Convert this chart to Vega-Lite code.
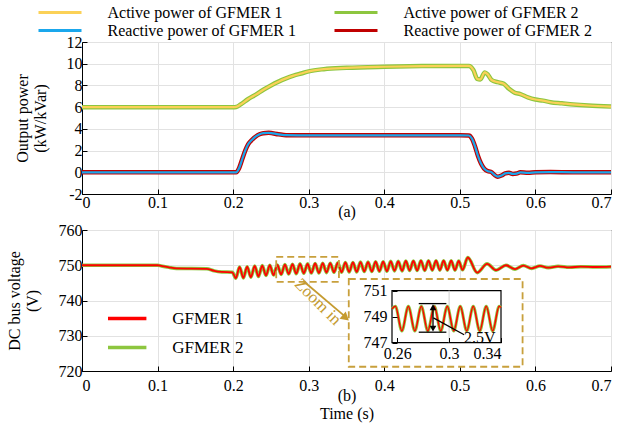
{
"$schema": "https://vega.github.io/schema/vega-lite/v6.json",
"background": "white",
"padding": {"left": 5, "top": 4, "right": 5, "bottom": 2},
"config": {
  "font": "Liberation Serif",
  "view": {"stroke": "black", "strokeWidth": 1},
  "axis": {"labelFont": "Liberation Serif", "labelFontSize": 16, "labelColor": "black", "titleFont": "Liberation Serif", "titleFontSize": 16, "titleFontWeight": "normal", "titleColor": "black", "domainColor": "black", "tickColor": "black", "gridColor": "#e2e2e2", "tickSize": -5, "labelPadding": 9, "titleLineHeight": 18},
  "legend": {"labelFont": "Liberation Serif", "labelFontSize": 16, "labelColor": "black", "labelLimit": 0, "padding": 0}
},
"datasets": {
  "power": [
    {"k":"P","t":0,"v":6},{"k":"P","t":0.2,"v":6},{"k":"P","t":0.204,"v":6.02},{"k":"P","t":0.21,"v":6.25},{"k":"P","t":0.22,"v":6.75},{"k":"P","t":0.23,"v":7.15},{"k":"P","t":0.24,"v":7.6},{"k":"P","t":0.25,"v":8.0},{"k":"P","t":0.26,"v":8.35},{"k":"P","t":0.27,"v":8.65},{"k":"P","t":0.28,"v":8.9},{"k":"P","t":0.29,"v":9.1},{"k":"P","t":0.3,"v":9.3},{"k":"P","t":0.32,"v":9.5},{"k":"P","t":0.35,"v":9.62},{"k":"P","t":0.4,"v":9.72},{"k":"P","t":0.45,"v":9.78},{"k":"P","t":0.5,"v":9.8},{"k":"P","t":0.512,"v":9.8},{"k":"P","t":0.518,"v":9.4},{"k":"P","t":0.523,"v":8.6},{"k":"P","t":0.527,"v":8.55},{"k":"P","t":0.533,"v":9.2},{"k":"P","t":0.537,"v":9.0},{"k":"P","t":0.542,"v":8.5},{"k":"P","t":0.55,"v":8.3},{"k":"P","t":0.558,"v":8.15},{"k":"P","t":0.565,"v":7.7},{"k":"P","t":0.572,"v":7.35},{"k":"P","t":0.58,"v":7.2},{"k":"P","t":0.59,"v":6.9},{"k":"P","t":0.6,"v":6.7},{"k":"P","t":0.61,"v":6.6},{"k":"P","t":0.62,"v":6.45},{"k":"P","t":0.635,"v":6.35},{"k":"P","t":0.65,"v":6.25},{"k":"P","t":0.67,"v":6.15},{"k":"P","t":0.7,"v":6.05},
    {"k":"Q","t":0,"v":0},{"k":"Q","t":0.204,"v":0},{"k":"Q","t":0.208,"v":0.4},{"k":"Q","t":0.212,"v":1.2},{"k":"Q","t":0.216,"v":2.0},{"k":"Q","t":0.22,"v":2.6},{"k":"Q","t":0.225,"v":3.0},{"k":"Q","t":0.23,"v":3.3},{"k":"Q","t":0.235,"v":3.5},{"k":"Q","t":0.24,"v":3.6},{"k":"Q","t":0.247,"v":3.63},{"k":"Q","t":0.26,"v":3.5},{"k":"Q","t":0.27,"v":3.42},{"k":"Q","t":0.3,"v":3.4},{"k":"Q","t":0.4,"v":3.4},{"k":"Q","t":0.5,"v":3.4},{"k":"Q","t":0.512,"v":3.39},{"k":"Q","t":0.516,"v":3.1},{"k":"Q","t":0.52,"v":2.4},{"k":"Q","t":0.524,"v":1.5},{"k":"Q","t":0.528,"v":0.8},{"k":"Q","t":0.532,"v":0.35},{"k":"Q","t":0.537,"v":0.1},{"k":"Q","t":0.541,"v":0.05},{"k":"Q","t":0.546,"v":-0.25},{"k":"Q","t":0.55,"v":-0.4},{"k":"Q","t":0.555,"v":-0.3},{"k":"Q","t":0.56,"v":-0.1},{"k":"Q","t":0.565,"v":-0.05},{"k":"Q","t":0.57,"v":-0.15},{"k":"Q","t":0.575,"v":-0.12},{"k":"Q","t":0.58,"v":0.0},{"k":"Q","t":0.59,"v":-0.05},{"k":"Q","t":0.6,"v":0.0},{"k":"Q","t":0.62,"v":0.02},{"k":"Q","t":0.65,"v":0.0},{"k":"Q","t":0.7,"v":0.0}
  ],
  "dc": [
    {"t":0,"v":750},{"t":0.1,"v":750},{"t":0.105,"v":749.8},{"t":0.115,"v":749.4},{"t":0.125,"v":749.1},{"t":0.165,"v":749.0},{"t":0.175,"v":748.4},{"t":0.185,"v":748.1},{"t":0.199,"v":748.0},
    {"t":0.2035,"v":746.3},{"t":0.2085,"v":749.5},{"t":0.2135,"v":746.4},{"t":0.2185,"v":749.6},{"t":0.2235,"v":746.6},{"t":0.2285,"v":749.8},{"t":0.2335,"v":746.8},{"t":0.2385,"v":749.9},{"t":0.2435,"v":747.1},{"t":0.2485,"v":750.0},
    {"t":0.2535,"v":747.2},{"t":0.2585,"v":750.1},{"t":0.2635,"v":747.4},{"t":0.2685,"v":750.2},{"t":0.2735,"v":747.5},{"t":0.2785,"v":750.3},{"t":0.2835,"v":747.6},{"t":0.2885,"v":750.4},{"t":0.2935,"v":747.7},{"t":0.2985,"v":750.4},
    {"t":0.3035,"v":747.8},{"t":0.3085,"v":750.5},{"t":0.3135,"v":747.8},{"t":0.3185,"v":750.6},{"t":0.3235,"v":747.9},{"t":0.3285,"v":750.6},{"t":0.3335,"v":748.0},{"t":0.3385,"v":750.7},{"t":0.3435,"v":748.0},{"t":0.3485,"v":750.8},
    {"t":0.3535,"v":748.1},{"t":0.3585,"v":750.8},{"t":0.3635,"v":748.1},{"t":0.3685,"v":750.9},{"t":0.3735,"v":748.2},{"t":0.3785,"v":750.9},{"t":0.3835,"v":748.2},{"t":0.3885,"v":751.0},{"t":0.3935,"v":748.3},{"t":0.3985,"v":751.0},
    {"t":0.4035,"v":748.3},{"t":0.4085,"v":751.1},{"t":0.4135,"v":748.4},{"t":0.4185,"v":751.1},{"t":0.4235,"v":748.4},{"t":0.4285,"v":751.2},{"t":0.4335,"v":748.5},{"t":0.4385,"v":751.2},{"t":0.4435,"v":748.5},{"t":0.4485,"v":751.3},
    {"t":0.4535,"v":748.5},{"t":0.4585,"v":751.3},{"t":0.4635,"v":748.6},{"t":0.4685,"v":751.3},{"t":0.4735,"v":748.6},{"t":0.4785,"v":751.3},{"t":0.4835,"v":748.6},{"t":0.4885,"v":751.3},{"t":0.4935,"v":748.6},{"t":0.4985,"v":751.2},
    {"t":0.5035,"v":748.7},{"t":0.5105,"v":752.2},{"t":0.523,"v":747.9},{"t":0.536,"v":750.4},{"t":0.548,"v":748.6},{"t":0.561,"v":750.0},{"t":0.573,"v":748.9},{"t":0.584,"v":749.9},{"t":0.595,"v":749.1},{"t":0.606,"v":749.8},{"t":0.617,"v":749.3},{"t":0.63,"v":749.7},{"t":0.645,"v":749.4},{"t":0.66,"v":749.6},{"t":0.68,"v":749.5},{"t":0.7,"v":749.6}
  ],
  "inset": [
    {"t":0.256,"v":749.6},{"t":0.2586,"v":749.8},{"t":0.2636,"v":747.9},{"t":0.2686,"v":749.8},{"t":0.2736,"v":747.9},{"t":0.2786,"v":749.8},{"t":0.2836,"v":747.9},{"t":0.2886,"v":749.8},{"t":0.2936,"v":747.9},{"t":0.2986,"v":749.8},{"t":0.3036,"v":747.9},{"t":0.3086,"v":749.8},{"t":0.3136,"v":747.9},{"t":0.3186,"v":749.8},{"t":0.3236,"v":747.9},{"t":0.3286,"v":749.8},{"t":0.3336,"v":747.9},{"t":0.3386,"v":749.8},{"t":0.34,"v":749.7}
  ]
},
"bounds": "flush",
"spacing": 36,
"resolve": {"scale": {"color": "independent"}},
"vconcat": [
  {
    "width": 529, "height": 152,
    "data": {"name": "power"},
    "encoding": {
      "x": {"field": "t", "type": "quantitative", "scale": {"domain": [0, 0.7], "nice": false, "zero": false},
            "axis": {"values": [0,0.1,0.2,0.3,0.4,0.5,0.6,0.7], "labelExpr": "'' + datum.value", "title": "(a)", "grid": true, "labelPadding": 5.5, "titlePadding": -7.5}},
      "y": {"field": "v", "type": "quantitative", "scale": {"domain": [-2, 12], "nice": false, "zero": false},
            "axis": {"values": [-2,0,2,4,6,8,10,12], "labelExpr": "'' + datum.value", "title": ["Output power", "(kW/kVar)"], "grid": true, "labelPadding": 5, "titlePadding": 18}}
    },
    "layer": [
      {"transform": [{"filter": "datum.k === 'P'"}], "mark": {"type": "line", "strokeWidth": 4.5, "interpolate": "monotone"},
       "encoding": {"color": {"datum": "Active power of GFMER 2", "type": "nominal",
          "scale": {"domain": ["Active power of GFMER 1", "Active power of GFMER 2", "Reactive power of GFMER 1", "Reactive power of GFMER 2"], "range": ["#FBD157", "#8DC63F", "#1AA7EC", "#C00000"]},
          "legend": {"orient": "none", "direction": "horizontal", "legendX": -30, "legendY": -37.5, "columns": 2, "title": null, "symbolType": "M-5,0H5", "symbolSize": 74, "symbolStrokeWidth": 3, "labelOffset": 39.5, "columnPadding": 32, "rowPadding": 2}}}},
      {"transform": [{"filter": "datum.k === 'P'"}], "mark": {"type": "line", "strokeWidth": 2.2, "interpolate": "monotone"},
       "encoding": {"color": {"datum": "Active power of GFMER 1", "type": "nominal"}}},
      {"transform": [{"filter": "datum.k === 'Q'"}], "mark": {"type": "line", "strokeWidth": 4.5, "interpolate": "monotone"},
       "encoding": {"color": {"datum": "Reactive power of GFMER 2", "type": "nominal"}}},
      {"transform": [{"filter": "datum.k === 'Q'"}], "mark": {"type": "line", "strokeWidth": 2.2, "interpolate": "monotone"},
       "encoding": {"color": {"datum": "Reactive power of GFMER 1", "type": "nominal"}}}
    ]
  },
  {
    "width": 529, "height": 141,
    "resolve": {"scale": {"x": "independent", "y": "independent"}},
    "layer": [
      {
        "encoding": {
          "x": {"field": "t", "type": "quantitative", "scale": {"domain": [0, 0.7], "nice": false, "zero": false},
                "axis": {"values": [0,0.1,0.2,0.3,0.4,0.5,0.6,0.7], "labelExpr": "'' + datum.value", "title": ["(b)", "Time (s)"], "grid": true, "labelPadding": 11, "titlePadding": -6}},
          "y": {"field": "v", "type": "quantitative", "scale": {"domain": [720, 760], "nice": false, "zero": false},
                "axis": {"values": [720,730,740,750,760], "labelExpr": "'' + datum.value", "title": ["DC bus voltage", "(V)"], "grid": true, "labelPadding": 5, "titlePadding": 18}}
        },
        "layer": [
          {"data": {"name": "dc"}, "mark": {"type": "line", "strokeWidth": 3.5, "interpolate": "monotone"},
           "encoding": {"color": {"datum": "GFMER 2", "type": "nominal",
              "scale": {"domain": ["GFMER 1", "GFMER 2"], "range": ["#FF0000", "#8DC63F"]},
              "legend": {"orient": "none", "legendX": 36.7, "legendY": 80, "title": null, "symbolType": "M-5,0H5", "symbolSize": 59, "symbolStrokeWidth": 3.5, "labelOffset": 36.5, "labelFontSize": 17, "rowPadding": 11}}}},
          {"data": {"name": "dc"}, "mark": {"type": "line", "strokeWidth": 1.8, "interpolate": "monotone"},
           "encoding": {"color": {"datum": "GFMER 1", "type": "nominal"}}},
          {"data": {"values": [{"t": 0.257, "v": 745.3, "t2": 0.34, "v2": 752.4}]},
           "mark": {"type": "rect", "filled": false, "stroke": "#C8A03C", "strokeWidth": 1.8, "strokeDash": [7, 4]},
           "encoding": {"x2": {"field": "t2"}, "y2": {"field": "v2"}}},
          {"data": {"values": [{"t": 0.353, "v": 721.2, "t2": 0.583, "v2": 746.1}]},
           "mark": {"type": "rect", "fill": "white", "stroke": "#C8A03C", "strokeWidth": 1.8, "strokeDash": [7, 4]},
           "encoding": {"x2": {"field": "t2"}, "y2": {"field": "v2"}}},
          {"data": {"values": [{"t": 0.2924, "v": 745.6, "t2": 0.3495, "v2": 735.2}]},
           "mark": {"type": "rule", "stroke": "#C59B30", "strokeWidth": 1.8},
           "encoding": {"x2": {"field": "t2"}, "y2": {"field": "v2"}}},
          {"data": {"values": [{"t": 0.349, "v": 735.1}]},
           "mark": {"type": "point", "shape": "triangle-right", "angle": 41, "filled": true, "fill": "#C59B30", "size": 90, "opacity": 1},
           "encoding": {}},
          {"data": {"values": [{"t": 0.312, "v": 739.6, "label": "Zoom in"}]},
           "mark": {"type": "text", "angle": 45, "fontSize": 17, "font": "Liberation Serif", "color": "#C59B30", "align": "center", "baseline": "middle"},
           "encoding": {"text": {"field": "label"}}}
        ]
      },
      {
        "encoding": {
          "x": {"field": "t", "type": "quantitative", "scale": {"domain": [0.256, 0.34], "range": [310, 419], "nice": false, "zero": false},
                "axis": {"orient": "bottom", "offset": -28.5, "values": [0.26, 0.3, 0.34], "labelExpr": "'' + datum.value", "title": null, "grid": false, "domain": false, "zindex": 2, "labelPadding": 8}},
          "y": {"field": "v", "type": "quantitative", "scale": {"domain": [747, 751], "range": [112.6, 60.6], "nice": false, "zero": false},
                "axis": {"orient": "left", "offset": -310, "values": [747, 749, 751], "labelExpr": "'' + datum.value", "title": null, "grid": false, "domain": false, "zindex": 2, "labelPadding": 10}}
        },
        "layer": [
          {"data": {"values": [{"t": 0.256, "v": 747, "t2": 0.34, "v2": 751}]},
           "mark": {"type": "rect", "fill": "white", "stroke": "black", "strokeWidth": 1.2},
           "encoding": {"x2": {"field": "t2"}, "y2": {"field": "v2"}}},
          {"data": {"values": [{"t": 0.3, "v": 747, "v2": 751}]},
           "mark": {"type": "rule", "stroke": "#d0d0d0", "strokeWidth": 1},
           "encoding": {"y2": {"field": "v2"}}},
          {"data": {"name": "inset"}, "mark": {"type": "line", "strokeWidth": 3, "interpolate": "monotone"},
           "encoding": {"color": {"datum": "GFMER 2", "type": "nominal"}}},
          {"data": {"name": "inset"}, "mark": {"type": "line", "strokeWidth": 1.5, "interpolate": "monotone"},
           "encoding": {"color": {"datum": "GFMER 1", "type": "nominal"}}},
          {"data": {"values": [{"t": 0.2766, "v": 750.0, "t2": 0.2979, "v2": 750.0}, {"t": 0.2766, "v": 747.8, "t2": 0.2979, "v2": 747.8}, {"t": 0.2876, "v": 748.1, "t2": 0.2876, "v2": 749.7}, {"t": 0.2879, "v": 748.9, "t2": 0.3116, "v2": 747.6}]},
           "mark": {"type": "rule", "stroke": "black", "strokeWidth": 1.3},
           "encoding": {"x2": {"field": "t2"}, "y2": {"field": "v2"}}},
          {"data": {"values": [{"t": 0.2876, "v": 749.72}]},
           "mark": {"type": "point", "shape": "triangle-up", "filled": true, "fill": "black", "size": 45, "opacity": 1},
           "encoding": {}},
          {"data": {"values": [{"t": 0.2876, "v": 748.08}]},
           "mark": {"type": "point", "shape": "triangle-down", "filled": true, "fill": "black", "size": 45, "opacity": 1},
           "encoding": {}},
          {"data": {"values": [{"t": 0.3115, "v": 747.35, "label": "2.5V"}]},
           "mark": {"type": "text", "fontSize": 16, "font": "Liberation Serif", "color": "black", "align": "left", "baseline": "middle"},
           "encoding": {"text": {"field": "label"}}}
        ]
      }
    ]
  }
]
}
